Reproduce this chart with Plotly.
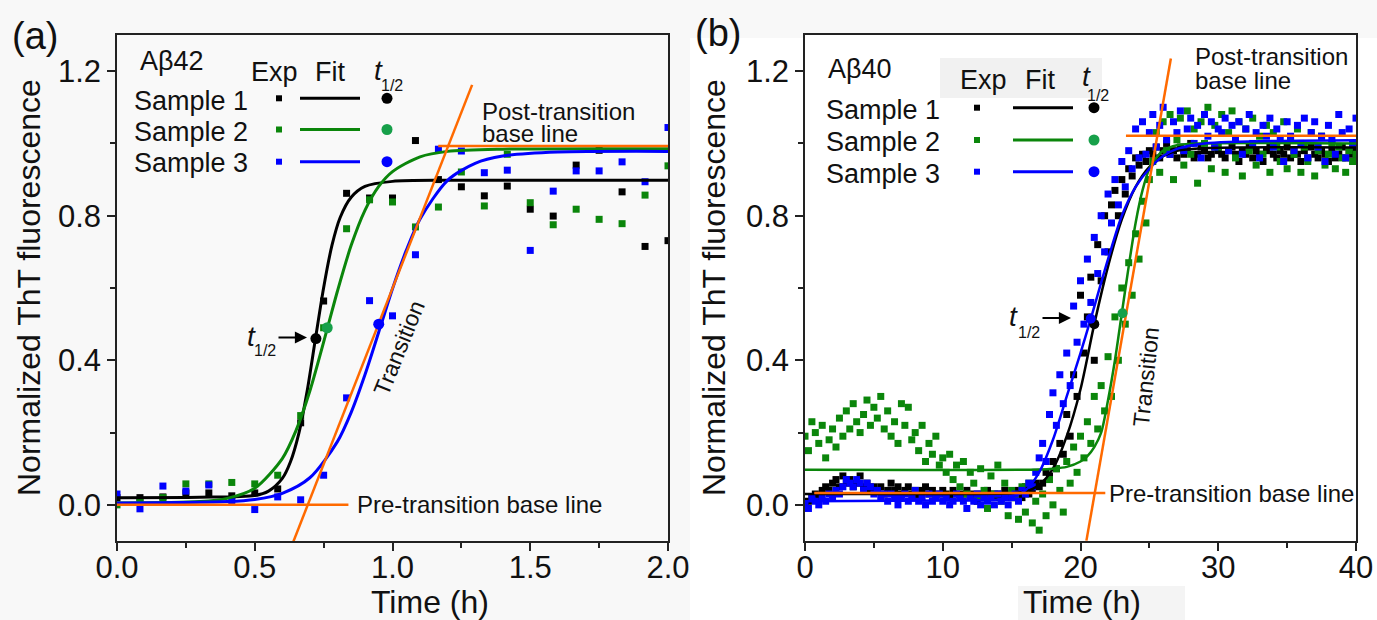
import plotly.graph_objects as go

OFF = 0
W, H = 1377, 620
FONT = "Liberation Sans, Arial, sans-serif"
BLACK, GREEN, BLUE, ORANGE = "#000000", "#0b860b", "#0000ff", "#ff6a00"
GREEN_DOT = "#17a04a"

# ---------------- Panel (a): Abeta42 ----------------
time_a = [i / 12 for i in range(25)]  # h, 5-min sampling
exp_a_s1 = [0.02, 0.02, 0.022, 0.033, 0.033, 0.025, 0.033, 0.044, 0.227, 0.564, 0.862, 0.849, 0.849,
            1.008, 0.90, 0.88, 0.855, 0.882, 0.818, 0.799, 0.94, 0.981, 0.866, 0.715, 0.731]
exp_a_s2 = [0.0, 0.01, 0.02, 0.058, 0.058, 0.062, 0.058, 0.082, 0.247, 0.49, 0.764, 0.844, 0.838,
            0.769, 0.824, 0.921, 0.827, 0.97, 0.836, 0.775, 0.818, 0.79, 0.778, 0.857, 0.938]
exp_a_s3 = [0.03, -0.011, 0.052, 0.038, 0.055, 0.011, -0.013, 0.022, 0.014, 0.082, 0.296, 0.565, 0.523,
            0.692, 0.984, 0.979, 0.919, 0.926, 0.704, 0.868, 0.924, 0.924, 0.949, 0.894, 1.044]

fit_a_s1_t = [0, 0.3, 0.5, 0.55, 0.6, 0.63, 0.66, 0.69, 0.72, 0.75, 0.78, 0.81, 0.85, 0.9, 1.0, 1.2, 1.6, 2.0]
fit_a_s1 = [0.02, 0.021, 0.026, 0.038, 0.073, 0.12, 0.198, 0.314, 0.458, 0.601, 0.717, 0.795, 0.851, 0.881,
            0.895, 0.898, 0.898, 0.898]
fit_a_s2_t = [0, 0.3, 0.4, 0.5, 0.6, 0.65, 0.7, 0.765, 0.8, 0.85, 0.9, 0.95, 1.0, 1.1, 1.2, 1.4, 2.0]
fit_a_s2 = [0.005, 0.009, 0.018, 0.046, 0.128, 0.206, 0.315, 0.4925, 0.591, 0.718, 0.815, 0.881, 0.922,
            0.963, 0.978, 0.984, 0.985]
fit_a_s3_t = [0, 0.4, 0.5, 0.6, 0.7, 0.8, 0.85, 0.9, 0.955, 1.0, 1.05, 1.1, 1.2, 1.3, 1.4, 1.6, 2.0]
fit_a_s3 = [0.005, 0.009, 0.015, 0.032, 0.075, 0.175, 0.256, 0.36, 0.49, 0.598, 0.704, 0.791, 0.898,
            0.945, 0.965, 0.976, 0.978]

t_half_a_t = [0.722, 0.763, 0.95]
t_half_a_y = [0.46, 0.49, 0.50]

pre_base_a = {"y": 0.0, "x0": 0.0, "x1": 0.84}
post_base_a = {"y": 0.993, "x0": 1.166, "x1": 2.0}
transition_a_t = [0.639, 1.289]
transition_a_y = [-0.104, 1.162]

# ---------------- Panel (b): Abeta40 ----------------
exp_b_s1 = [
    0.00, 0.01, 0.02, 0.03, 0.02, 0.04, 0.05, 0.04, 0.06,
    0.07, 0.05, 0.08, 0.06, 0.07, 0.05, 0.06, 0.08, 0.05, 0.06, 0.04, 0.05,
    0.04, 0.05, 0.03, 0.04, 0.06, 0.04, 0.05, 0.03, 0.04, 0.05, 0.03, 0.04, 0.02, 0.04, 0.05, 0.03, 0.04, 0.02, 0.03, 0.04,
    0.03, 0.02, 0.04, 0.03, 0.02, 0.03, 0.04, 0.02, 0.03, 0.01, 0.03, 0.02, 0.04, 0.03, 0.02, 0.03, 0.02, 0.04, 0.03, 0.02,
    0.03, 0.04, 0.02, 0.05, 0.03, 0.04, 0.06, 0.05,
    0.06, 0.09, 0.08, 0.12, 0.10, 0.17, 0.14, 0.25, 0.19, 0.36, 0.30, 0.58, 0.42, 0.52, 0.63, 0.40,
    0.72, 0.62, 0.80, 0.70, 0.83, 0.87, 0.80, 0.90, 0.86, 0.93, 0.91, 0.96, 0.94, 0.97, 0.95, 0.98,
    0.97, 0.99, 0.96, 0.98, 1.00, 0.97, 0.98, 0.96, 0.99, 0.97, 0.98, 1.00, 0.96, 0.97, 0.99, 0.98, 0.96, 0.97, 0.99, 0.98,
    0.97, 0.96, 0.98, 0.99, 0.97, 0.95, 0.98, 0.97, 0.99, 0.96, 0.98, 0.97, 0.95, 0.98, 0.99, 0.97, 0.96, 0.98, 0.97, 0.99,
    0.96, 0.98, 0.97, 0.95, 0.98, 0.96, 0.99, 0.97, 0.96, 0.98, 0.97, 0.95, 0.98, 0.96, 0.97, 0.99, 0.96, 0.98, 0.97, 0.98]
exp_b_s2 = [
    0.19, 0.15, 0.23, 0.20, 0.17, 0.22, 0.13, 0.18, 0.21,
    0.16, 0.24, 0.19, 0.26, 0.21, 0.28, 0.23, 0.20, 0.25, 0.29, 0.22, 0.27,
    0.24, 0.30, 0.21, 0.26, 0.19, 0.23, 0.17, 0.28, 0.22, 0.27, 0.18, 0.20, 0.15, 0.22, 0.12, 0.17, 0.14, 0.19, 0.11, 0.13,
    0.09, 0.14, 0.07, 0.11, 0.05, 0.12, 0.03, 0.09, 0.06, 0.02, 0.10, 0.04, -0.01, 0.08, 0.03, 0.11, 0.01, 0.06, -0.03, 0.04,
    0.02, -0.04, 0.05, -0.02, 0.06, -0.05, 0.01, -0.07,
    0.03, -0.03, 0.07, 0.00, 0.10, 0.04, -0.02, 0.12, 0.06, 0.16, 0.09, 0.19, 0.13, 0.23, 0.17, 0.30,
    0.21, 0.33, 0.26, 0.41, 0.30, 0.52, 0.40, 0.60, 0.50, 0.67, 0.58, 0.75, 0.68, 0.84, 0.78, 0.90,
    0.95, 1.03, 0.92, 1.06, 0.98, 1.08, 0.90, 1.01, 1.07, 0.94, 1.09, 0.97, 1.04, 0.89, 1.06, 1.00, 1.10, 0.93, 1.05, 0.99,
    1.08, 0.92, 1.03, 1.09, 0.96, 1.06, 0.91, 1.04, 0.98, 1.07, 0.94, 1.02, 0.97, 1.05, 0.92, 1.03, 0.99, 0.95, 1.06, 0.93,
    1.01, 0.97, 1.04, 0.92, 0.99, 0.95, 1.03, 0.91, 0.98, 1.02, 0.94, 0.97, 1.00, 0.93, 0.99, 0.96, 0.92, 0.98, 0.95, 0.97]
exp_b_s3 = [
    0.00, -0.01, 0.02, 0.01, 0.00, 0.02, 0.01, 0.03, 0.02,
    0.04, 0.03, 0.05, 0.07, 0.06, 0.05, 0.07, 0.06, 0.04, 0.06, 0.05, 0.03,
    0.04, 0.02, 0.03, 0.01, 0.03, 0.02, 0.00, 0.02, 0.03, 0.01, 0.02, 0.04, 0.01, 0.02, 0.00, 0.03, 0.01, 0.02, 0.03, 0.01,
    0.02, 0.00, 0.01, 0.03, 0.02, 0.01, -0.01, 0.02, 0.01, 0.03, 0.00, 0.02, 0.01, 0.02, 0.00, 0.03, 0.01, 0.02, 0.00, 0.02,
    0.03, 0.01, 0.04, 0.03, 0.06, 0.05, 0.09, 0.13,
    0.17, 0.12, 0.25, 0.31, 0.22, 0.36, 0.28, 0.42, 0.33, 0.55, 0.45, 0.62, 0.50, 0.68, 0.56, 0.74,
    0.64, 0.80, 0.70, 0.86, 0.78, 0.90, 0.83, 0.95, 0.88, 0.98, 0.93, 1.04, 0.96, 1.06, 0.97, 1.03,
    1.08, 0.99, 1.05, 1.10, 1.01, 0.97, 1.06, 1.03, 1.09, 0.98, 1.04, 1.07, 1.00, 1.05, 0.96, 1.08, 1.02, 1.06, 0.99, 1.04,
    1.03, 1.07, 0.98, 1.05, 1.01, 1.06, 0.97, 1.04, 1.08, 1.00, 1.03, 0.96, 1.05, 1.02, 1.07, 0.99, 1.04, 1.01, 0.95, 1.06,
    1.02, 0.98, 1.05, 1.00, 1.07, 0.96, 1.03, 1.06, 0.99, 1.02, 0.95, 1.05, 1.01, 0.97, 1.08, 1.03, 0.96, 1.04, 1.00, 1.07]
assert len(exp_b_s1) == len(exp_b_s2) == len(exp_b_s3) == 161
time_b = [0.25 * i for i in range(161)]  # h, 15-min sampling

fit_b_s1_t = [0, 10, 15, 16, 17, 18, 19, 20, 21, 22, 23, 24, 25, 26, 27, 29, 40]
fit_b_s1 = [0.03, 0.03, 0.032, 0.037, 0.055, 0.10, 0.19, 0.32, 0.50, 0.66, 0.79, 0.88, 0.935, 0.965, 0.98, 0.987, 0.989]
fit_b_s2_t = [0, 17, 18, 19, 20, 20.5, 21, 21.5, 22, 22.5, 23, 23.5, 24, 24.5, 25, 25.5, 26, 27, 29, 40]
fit_b_s2 = [0.097, 0.098, 0.10, 0.105, 0.12, 0.135, 0.16, 0.20, 0.29, 0.40, 0.53, 0.66, 0.78, 0.87, 0.93,
            0.96, 0.98, 0.995, 1.0, 1.0]
fit_b_s3_t = [0, 10, 14, 15, 16, 17, 18, 19, 20, 20.75, 21.5, 22, 23, 24, 25, 26, 27, 29, 40]
fit_b_s3 = [0.01, 0.012, 0.015, 0.022, 0.04, 0.09, 0.18, 0.30, 0.42, 0.515, 0.615, 0.68, 0.80, 0.88, 0.93,
            0.965, 0.985, 1.0, 1.009]

t_half_b_t = [21.0, 23.05, 20.74]
t_half_b_y = [0.50, 0.53, 0.515]

pre_base_b = {"y": 0.033, "x0": 0.67, "x1": 21.8}
post_base_b = {"y": 1.021, "x0": 23.3, "x1": 40.0}
transition_b_t = [20.43, 26.56]
transition_b_y = [-0.099, 1.235]

samples = ["Sample 1", "Sample 2", "Sample 3"]
colors = [BLACK, GREEN, BLUE]
dot_colors = [BLACK, GREEN_DOT, BLUE]

# ---------------- geometry (reference pixel coordinates) ----------------
A_L, A_R, B_L, B_R, TOP, BOT = 117, 668, 805, 1356, 35, 541
YR = [-0.1, 1.3]


def P(px, py):
    return (px - OFF) / W, 1 - (py - OFF) / H


def da(px, py):
    return (px - A_L) / (A_R - A_L) * 2.0, YR[0] + (BOT - py) / (BOT - TOP) * (YR[1] - YR[0])


def db(px, py):
    return (px - B_L) / (B_R - B_L) * 40.0, YR[0] + (BOT - py) / (BOT - TOP) * (YR[1] - YR[0])


fig = go.Figure()


def sc(x, y, ax, **kw):
    fig.add_trace(go.Scatter(x=x, y=y, xaxis="x" if ax == "a" else "x2",
                             yaxis="y" if ax == "a" else "y2", showlegend=False,
                             hoverinfo="skip", **kw))


# Panel a
for ys, c in zip([exp_a_s1, exp_a_s2, exp_a_s3], colors):
    sc(time_a, ys, "a", mode="markers", marker=dict(symbol="square", size=7, color=c, line_width=0))
for tx, ys, c in zip([fit_a_s1_t, fit_a_s2_t, fit_a_s3_t], [fit_a_s1, fit_a_s2, fit_a_s3], colors):
    sc(tx, ys, "a", mode="lines", line=dict(color=c, width=3, shape="spline", smoothing=0.8))
sc([pre_base_a["x0"], pre_base_a["x1"]], [pre_base_a["y"]] * 2, "a", mode="lines", line=dict(color=ORANGE, width=2.5))
sc([post_base_a["x0"], post_base_a["x1"]], [post_base_a["y"]] * 2, "a", mode="lines", line=dict(color=ORANGE, width=2.5))
sc(transition_a_t, transition_a_y, "a", mode="lines", line=dict(color=ORANGE, width=2.5))
for i in range(3):
    sc([t_half_a_t[i]], [t_half_a_y[i]], "a", mode="markers", marker=dict(size=11, color=dot_colors[i]))

# Panel b
for ys, c in zip([exp_b_s1, exp_b_s2, exp_b_s3], colors):
    sc(time_b, ys, "b", mode="markers", marker=dict(symbol="square", size=7, color=c, line_width=0))
for tx, ys, c in zip([fit_b_s1_t, fit_b_s2_t, fit_b_s3_t], [fit_b_s1, fit_b_s2, fit_b_s3], colors):
    sc(tx, ys, "b", mode="lines", line=dict(color=c, width=2.5, shape="spline", smoothing=0.8))
sc([pre_base_b["x0"], pre_base_b["x1"]], [pre_base_b["y"]] * 2, "b", mode="lines", line=dict(color=ORANGE, width=2.5))
sc([post_base_b["x0"], post_base_b["x1"]], [post_base_b["y"]] * 2, "b", mode="lines", line=dict(color=ORANGE, width=2.5))
sc(transition_b_t, transition_b_y, "b", mode="lines", line=dict(color=ORANGE, width=2.5))
for i in range(3):
    sc([t_half_b_t[i]], [t_half_b_y[i]], "b", mode="markers", marker=dict(size=10, color=dot_colors[i]))

# Custom legend glyphs
leg_a = {"sq": 279, "l0": 300, "l1": 360, "dot": 387, "ys": [98.3, 129.5, 161.7]}
leg_b = {"sq": 977, "l0": 1013, "l1": 1073, "dot": 1094, "ys": [107.7, 140, 171.7]}
for ax, lg, conv in [("a", leg_a, da), ("b", leg_b, db)]:
    for i in range(3):
        py = lg["ys"][i]
        x, y = conv(lg["sq"], py)
        sc([x], [y], ax, mode="markers", marker=dict(symbol="square", size=6, color=colors[i], line_width=0))
        x0, y0 = conv(lg["l0"], py)
        x1, _ = conv(lg["l1"], py)
        sc([x0, x1], [y0, y0], ax, mode="lines", line=dict(color=colors[i], width=3))
        xd, yd = conv(lg["dot"], py)
        sc([xd], [yd], ax, mode="markers", marker=dict(size=11, color=dot_colors[i]))

annotations = []


def ann(text, px, py, size, xanchor="center", yanchor="middle", angle=0, color="#111"):
    x, y = P(px, py)
    annotations.append(dict(text=text, x=x, y=y, xref="paper", yref="paper", showarrow=False,
                            xanchor=xanchor, yanchor=yanchor, textangle=angle,
                            font=dict(family=FONT, size=size, color=color)))


def arrow(px_tip, py, length):
    x, y = P(px_tip, py)
    annotations.append(dict(text="", x=x, y=y, xref="paper", yref="paper", showarrow=True,
                            ax=-length, ay=0, arrowhead=2, arrowsize=1.1, arrowwidth=2.2,
                            arrowcolor="#000"))


# Panel labels and titles
ann("(a)", 35, 36, 38)
ann("(b)", 718, 33, 38)
for xc in (29, 714):
    ann("Normalized ThT fluorescence", xc, 288, 32, angle=-90)
ann("Time (h)", 430, 602, 32)
ann("Time (h)", 1082, 602, 32)

# Legend texts
ann("Aβ42", 172, 61, 27)
ann("Aβ40", 860, 69, 27)
for (ex, fx, tx, ty, sx, sy, lx, lys, hy) in [
        (274, 330, 378.5, 70, 392, 86, 132, [100.7, 131.7, 162.5], 72),
        (983, 1040, 1086, 77, 1098, 96, 824, [110, 142, 174], 80)]:
    ann("Exp", ex, hy, 27)
    ann("Fit", fx, hy, 27)
    ann("<i>t</i>", tx, ty, 28)
    ann("1/2", sx, sy, 16)
    for s, yy in zip(samples, lys):
        ann(s, lx, yy, 27, xanchor="left")

# Construction-line labels
ann("Post-transition", 480, 111, 24, xanchor="left")
ann("base line", 480, 134, 24, xanchor="left")
ann("Pre-transition base line", 355, 504, 24, xanchor="left")
ann("Transition", 399, 348, 23, angle=-68)
ann("Post-transition", 1193, 57, 24, xanchor="left")
ann("base line", 1193, 80, 24, xanchor="left")
ann("Pre-transition base line", 1107, 493, 24, xanchor="left")
ann("Transition", 1146, 377, 23, angle=-84)

# t1/2 arrows
ann("<i>t</i>", 251.5, 336, 28)
ann("1/2", 265, 350, 16)
arrow(307, 337.5, 30)
ann("<i>t</i>", 1013.5, 317, 28)
ann("1/2", 1029, 332, 16)
arrow(1071, 318, 30)

shapes = []


def rect(px0, py0, px1, py1, color):
    x0, y0 = P(px0, py0)
    x1, y1 = P(px1, py1)
    shapes.append(dict(type="rect", xref="paper", yref="paper", x0=x0, x1=x1, y0=y1, y1=y0,
                       fillcolor=color, line_width=0, layer="below"))


rect(690, 38, 1377, 620, "#ffffff")
shapes.append(dict(type="rect", xref="x2 domain", yref="y2 domain", x0=0, x1=1, y0=0, y1=1,
                   fillcolor="#ffffff", line_width=0, layer="below"))
rect(940, 58, 1102, 98, "#f1f1f1")
rect(1018, 586, 1185, 620, "#f4f4f4")

tickfont = dict(family=FONT, size=31, color="#111")
base_axis = dict(showline=True, linecolor="#222", linewidth=1.5, mirror=True, ticks="outside",
                 ticklen=8, tickwidth=1.5, tickcolor="#222", tickfont=tickfont,
                 showgrid=False, zeroline=False, fixedrange=True, automargin=False)


def axis(**kw):
    d = dict(base_axis)
    d.update(kw)
    return d


def minor(dt):
    return dict(ticks="outside", ticklen=5, tickwidth=1.5, tickcolor="#222", dtick=dt, showgrid=False)


xa0, ya_top = P(A_L, TOP)
xa1, ya_bot = P(A_R, BOT)
xb0, _ = P(B_L, TOP)
xb1, _ = P(B_R, BOT)

fig.update_layout(
    width=W, height=H, autosize=False,
    margin=dict(l=0, r=0, t=0, b=0, pad=0),
    paper_bgcolor="#f8f8f8",
    plot_bgcolor="#f9f9f9",
    hovermode=False,
    xaxis=axis(domain=[xa0, xa1], range=[0, 2], tick0=0, dtick=0.5, tickformat=".1f",
               minor=minor(0.25), anchor="y", ticklabelstandoff=-10),
    yaxis=axis(domain=[ya_bot, ya_top], range=YR, tick0=0, dtick=0.4, tickformat=".1f",
               minor=minor(0.2), anchor="x"),
    xaxis2=axis(domain=[xb0, xb1], range=[0, 40], tick0=0, dtick=10,
                minor=minor(5), anchor="y2", ticklabelstandoff=-10),
    yaxis2=axis(domain=[ya_bot, ya_top], range=YR, tick0=0, dtick=0.4, tickformat=".1f",
                minor=minor(0.2), anchor="x2"),
    annotations=annotations,
    shapes=shapes,
)

# remove the default page margin so the 1377x620 figure fills the window exactly
fig.write_html("out.html", config={"displayModeBar": False},
               post_script="document.body.style.margin='0';document.body.style.overflow='hidden';")
